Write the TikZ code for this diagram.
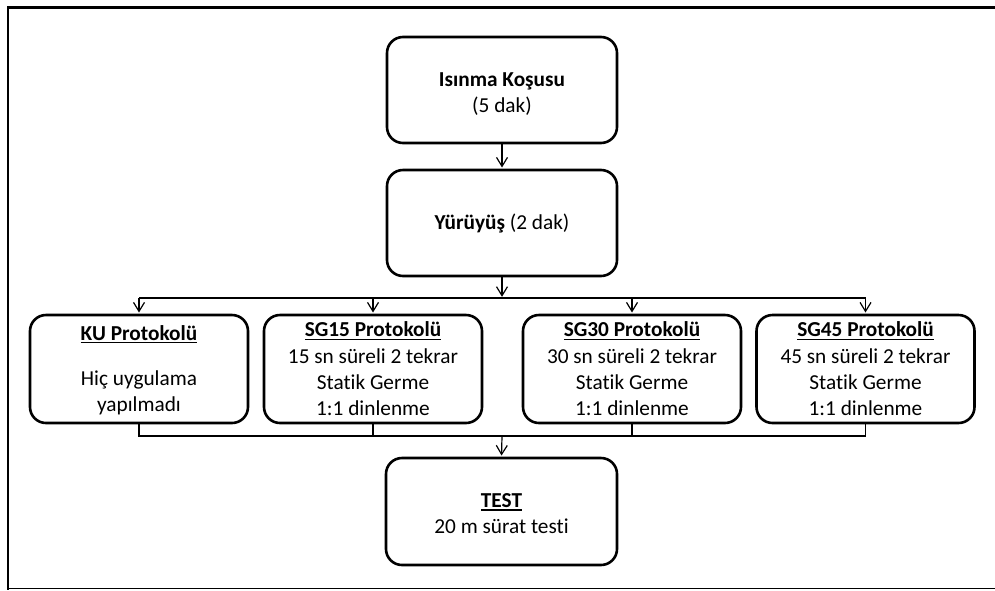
\documentclass[tikz,border=0pt]{standalone}
\usepackage{fontspec}
\setmainfont{Carlito}[Ligatures=NoCommon]
\usetikzlibrary{arrows.meta,calc}
\newcommand\ulx[1]{\setbox0\hbox{#1}\rlap{\rule[-3.3pt]{\wd0}{1.3pt}}\box0}
\begin{document}
\begin{tikzpicture}[x=1pt,y=-1pt,
  box/.style={draw, line width=2.6pt, rounded corners=16pt, minimum width=230pt, minimum height=106pt, inner sep=0pt},
  pbox/.style={box, minimum width=218pt, minimum height=108pt},
  txt/.style={align=center, font=\fontsize{21.3}{26.3}\selectfont, inner sep=0pt},
  conn/.style={line width=1.2pt},
  arr/.style={conn, shorten >=1.2pt, -{Straight Barb[length=9pt,width=11pt]}}]
\useasboundingbox (0,0) rectangle (995,590);
% outer frame
\draw[line width=2.8pt] (995,7.3) -- (8,7.3) -- (8,589.5);
\draw[line width=1.5pt] (8,588.7) -- (995,588.7);
% boxes
\node[box] (isinma) at (502,90) {};
\node[box] (yuruyus) at (502,223) {};
\node[pbox] (ku) at (139,369) {};
\node[pbox] (sg15) at (373,369) {};
\node[pbox] (sg30) at (632,369) {};
\node[pbox] (sg45) at (865.5,369) {};
\node[box, minimum width=231pt, minimum height=107pt] (test) at (501.5,511.5) {};
% texts
\node[txt] (isinmaT) at ($(isinma.center)+(0,4)$) {\textbf{Isınma Koşusu}\\(5 dak)};
\node[txt] (yuruyusT) at (yuruyus.center) {\textbf{Yürüyüş} (2 dak)};
\node[txt] (kuT) at ($(ku.center)+(0,1)$) {\textbf{\ulx{KU Protokolü}}\\[18.7pt]Hiç uygulama\\yapılmadı};
\node[txt] (sg15T) at (sg15.center) {\textbf{\ulx{SG15 Protokolü}}\\15 sn süreli 2 tekrar\\Statik Germe\\1:1 dinlenme};
\node[txt] (sg30T) at (sg30.center) {\textbf{\ulx{SG30 Protokolü}}\\30 sn süreli 2 tekrar\\Statik Germe\\1:1 dinlenme};
\node[txt] (sg45T) at (sg45.center) {\textbf{\ulx{SG45 Protokolü}}\\45 sn süreli 2 tekrar\\Statik Germe\\1:1 dinlenme};
\node[txt] (testT) at ($(test.center)+(0,2)$) {\textbf{\ulx{TEST}}\\20 m sürat testi};
% connectors
\coordinate (split) at (502,298);
\coordinate (join) at (502,436);
\draw[arr] (isinma.south) -- (yuruyus.north);
\draw[arr] (yuruyus.south) -- (split);
\draw[conn] (ku.north |- split) -- (sg45.north |- split);
\foreach \b in {ku,sg15,sg30,sg45}{
  \draw[arr] (\b.north |- split) -- (\b.north);
}
\draw[conn] (ku.south) -- (ku.south |- join) -- (sg45.south |- join) -- (sg45.south);
\draw[conn] (sg15.south) -- (sg15.south |- join);
\draw[conn] (sg30.south) -- (sg30.south |- join);
\draw[arr] (join) -- (test.north);
\end{tikzpicture}
\end{document}
